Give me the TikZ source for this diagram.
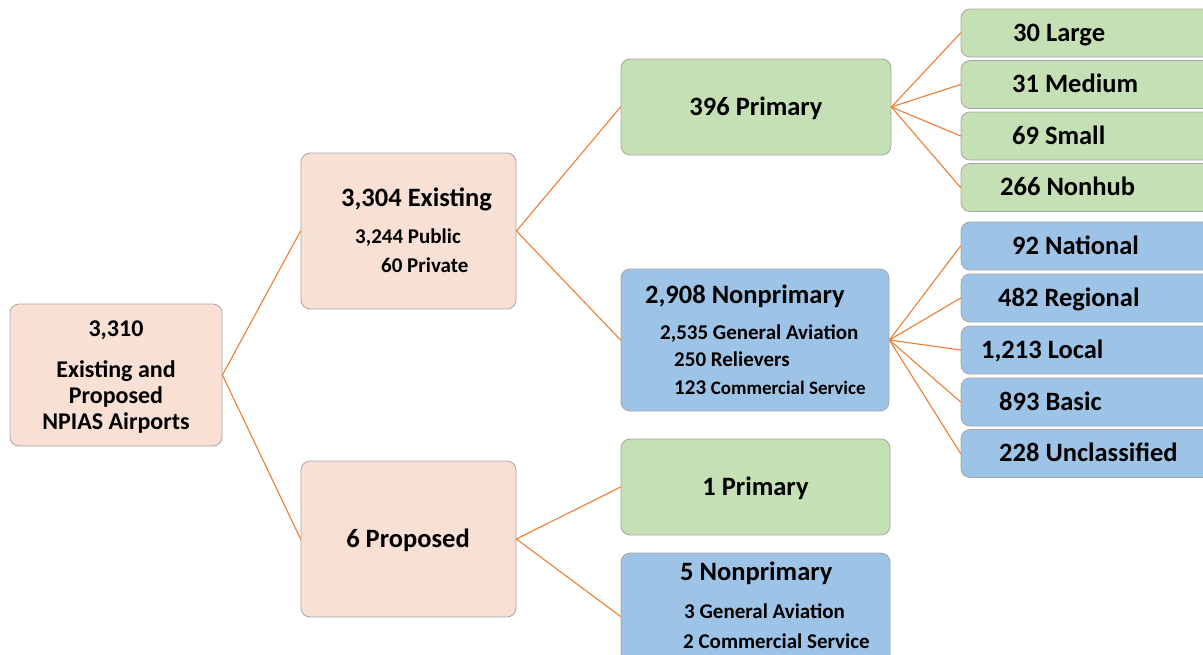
\documentclass[tikz,border=0pt]{standalone}
\usepackage{fontspec}
\setmainfont{Carlito}
\definecolor{peachfill}{HTML}{F8E1D4}
\definecolor{greenfill}{HTML}{C5E0B4}
\definecolor{bluefill}{HTML}{9DC3E6}
\definecolor{linkorange}{HTML}{ED7D31}
\tikzset{
  box/.style={draw=black!35, line width=0.8pt, rounded corners=9pt, inner sep=0pt},
  peachbox/.style={box, fill=peachfill},
  greenbox/.style={box, fill=greenfill},
  bluebox/.style={box, fill=bluefill},
  link/.style={draw=linkorange, line width=1.1pt},
  big/.style={font=\bfseries\fontsize{26.5}{30}\selectfont, inner sep=0pt},
  mid/.style={font=\bfseries\fontsize{24}{28}\selectfont, inner sep=0pt},
  small/.style={font=\bfseries\fontsize{21}{25}\selectfont, inner sep=0pt},
}
\begin{document}
\begin{tikzpicture}[x=1pt, y=-1pt, line join=round, line cap=round]
  \useasboundingbox (0,0) rectangle (1203,654);
  \clip (0,0) rectangle (1203,654);
  % left part of the tree
  \node[peachbox, minimum width=212pt, minimum height=142pt] (root) at (116,375) {};
  \node[mid, anchor=base] (rootnum) at (116,336) {3,310};
  \node[mid, anchor=base] (roota) at (116,377) {Existing and};
  \node[mid, anchor=base] (rootb) at (116,403) {Proposed};
  \node[mid, anchor=base] (rootc) at (116,429) {NPIAS Airports};

  \node[peachbox, minimum width=215pt, minimum height=156pt] (exist) at (408.5,231) {};
  \node[big, anchor=base west] (existt) at (341,206) {3,304 Existing};
  \node[small, anchor=base west] (public) at (355,243) {3,244 Public};
  \node[small, anchor=base west] (private) at (381,272) {60 Private};

  \node[peachbox, minimum width=215pt, minimum height=156pt] (prop) at (408.5,539) {};
  \node[big, anchor=base] (propt) at (408,547) {6 Proposed};

  \draw[link] (root.east) -- (exist.west);
  \draw[link] (root.east) -- (prop.west);

  % middle column
  \node[greenbox, minimum width=270pt, minimum height=96pt] (pri) at (756,107) {};
  \node[big, anchor=base] (prit) at (756,115) {396 Primary};

  \node[bluebox, minimum width=268pt, minimum height=142pt] (nonpri) at (755,340) {};
  \node[big, anchor=base west] (nonprit) at (645,303) {2,908 Nonprimary};
  \node[small, anchor=base west] (genav) at (660,339) {2,535 General Aviation};
  \node[small, anchor=base west] (reliev) at (674,366) {250 Relievers};
  \node[small, anchor=base west] (comm) at (674,394) {123 {\fontsize{19}{22}\selectfont Commercial Service}};

  \node[greenbox, minimum width=269pt, minimum height=96pt] (pripro) at (755.5,487) {};
  \node[big, anchor=base] (priprot) at (755.5,495) {1 Primary};

  \node[bluebox, minimum width=269pt, minimum height=127pt] (nonpripro) at (755.5,616.5) {};
  \node[big, anchor=base west] (nonpriprot) at (680,580) {5 Nonprimary};
  \node[small, anchor=base west] (genavpro) at (684,618) {3 General Aviation};
  \node[small, anchor=base west] (commpro) at (683,648) {2 Commercial Service};

  \draw[link] (exist.east) -- (pri.west);
  \draw[link] (exist.east) -- (nonpri.west);
  \draw[link] (prop.east) -- (pripro.west);
  \draw[link] (prop.east) -- (nonpripro.west);

  % right column
  \foreach \n/\yc/\xt/\txt in {lg/33/1013/30 Large, md/84.5/1012/31 Medium,
      sm/136/1012/69 Small, nh/187.5/1000/266 Nonhub}{
    \node[greenbox, minimum width=279pt, minimum height=48pt] (\n) at (1100.5,\yc) {};
    \node[big, anchor=base west] (\n t) at (\xt,\yc+8) {\txt};
    \draw[link] (pri.east) -- (\n.west);
  }
  \foreach \n/\yc/\xt/\txt in {na/246/1012/92 National, re/298/998/482 Regional,
      lo/350/981/{1,213 Local}, ba/402/999/893 Basic, un/453.5/999/228 Unclassified}{
    \node[bluebox, minimum width=279pt, minimum height=48pt] (\n) at (1100.5,\yc) {};
    \node[big, anchor=base west] (\n t) at (\xt,\yc+8) {\txt};
    \draw[link] (nonpri.east) -- (\n.west);
  }
\end{tikzpicture}
\end{document}
